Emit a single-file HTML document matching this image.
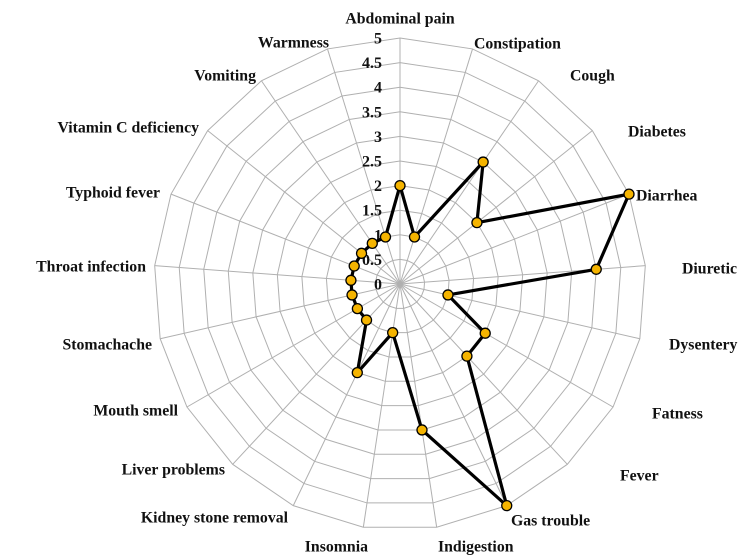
<!DOCTYPE html>
<html><head><meta charset="utf-8"><style>
html,body{margin:0;padding:0;background:#fff;}
svg{display:block;font-family:"Liberation Serif",serif;font-weight:bold;}
</style></head><body>
<svg id="chart" width="743" height="555" viewBox="0 0 743 555" xmlns="http://www.w3.org/2000/svg">
<g id="grid"></g>
<g id="ticks"></g>
<g id="cats"></g>
<g id="series"></g>
</svg>
<script>
const categories = ["Abdominal pain","Constipation","Cough","Diabetes","Diarrhea","Diuretic","Dysentery","Fatness","Fever","Gas trouble","Indigestion","Insomnia","Kidney stone removal","Liver problems","Mouth smell","Stomachache","Throat infection","Typhoid fever","Vitamin C deficiency","Vomiting","Warmness"];
const values = [2,1,3,2,5,4,1,2,2,5,3,1,2,1,1,1,1,1,1,1,1];
const tickValues = [0,0.5,1,1.5,2,2.5,3,3.5,4,4.5,5];
const tickLabels = ["0","0.5","1","1.5","2","2.5","3","3.5","4","4.5","5"];
const labelPos = [[400,18,"middle"],[474,43,"start"],[570,75,"start"],[628,131,"start"],[636,195,"start"],[682,268,"start"],[669,344,"start"],[652,413,"start"],[620,475,"start"],[511,520,"start"],[438,546,"start"],[368,546,"end"],[288,517,"end"],[225,469,"end"],[178,410,"end"],[152,344,"end"],[146,266,"end"],[160,192,"end"],[199,127,"end"],[256,75,"end"],[329,42,"end"]];

const NS="http://www.w3.org/2000/svg";
const cx=400, cy=284, R=246, vmax=5;
const n=categories.length;
function ang(i){return i*2*Math.PI/n;}
function pt(i,v){const r=v/vmax*R;return [cx+r*Math.sin(ang(i)), cy-r*Math.cos(ang(i))];}
function mk(tag,attrs,parent){const e=document.createElementNS(NS,tag);for(const k in attrs)e.setAttribute(k,attrs[k]);parent.appendChild(e);return e;}

const grid=document.getElementById('grid');
tickValues.forEach((t,k)=>{
  if(t===0)return;
  const pts=categories.map((c,i)=>pt(i,t).join(',')).join(' ');
  const p=mk('polygon',{points:pts,fill:'none',stroke:'#b0b0b0','stroke-width':1},grid);
  
  
});
categories.forEach((c,i)=>{
  const [x,y]=pt(i,vmax);
  const l=mk('line',{x1:cx,y1:cy,x2:x,y2:y,stroke:'#b0b0b0','stroke-width':1},grid);
  
  
});

const ticks=document.getElementById('ticks');
tickValues.forEach((t,k)=>{
  const y=cy-t/vmax*R;
  const tx=mk('text',{x:382,y:y+5.5,'text-anchor':'end','font-size':16,fill:'#111'},ticks);
  tx.textContent=tickLabels[k];
  
  
});

const cats=document.getElementById('cats');
categories.forEach((c,i)=>{
  const p=labelPos[i];
  const tx=mk('text',{x:p[0],y:p[1]+5.5,'text-anchor':p[2],'font-size':15.8,fill:'#111'},cats);
  tx.textContent=c;
  
  
});

const series=document.getElementById('series');
const poly=categories.map((c,i)=>pt(i,values[i]).join(',')).join(' ');
const line=mk('polygon',{points:poly,fill:'none',stroke:'#000','stroke-width':3.2,'stroke-linejoin':'miter'},series);


categories.forEach((c,i)=>{
  const [x,y]=pt(i,values[i]);
  const m=mk('circle',{cx:x,cy:y,r:5,fill:'#f5b400',stroke:'#000','stroke-width':1.3},series);
  
  
});
</script>
</body></html>
